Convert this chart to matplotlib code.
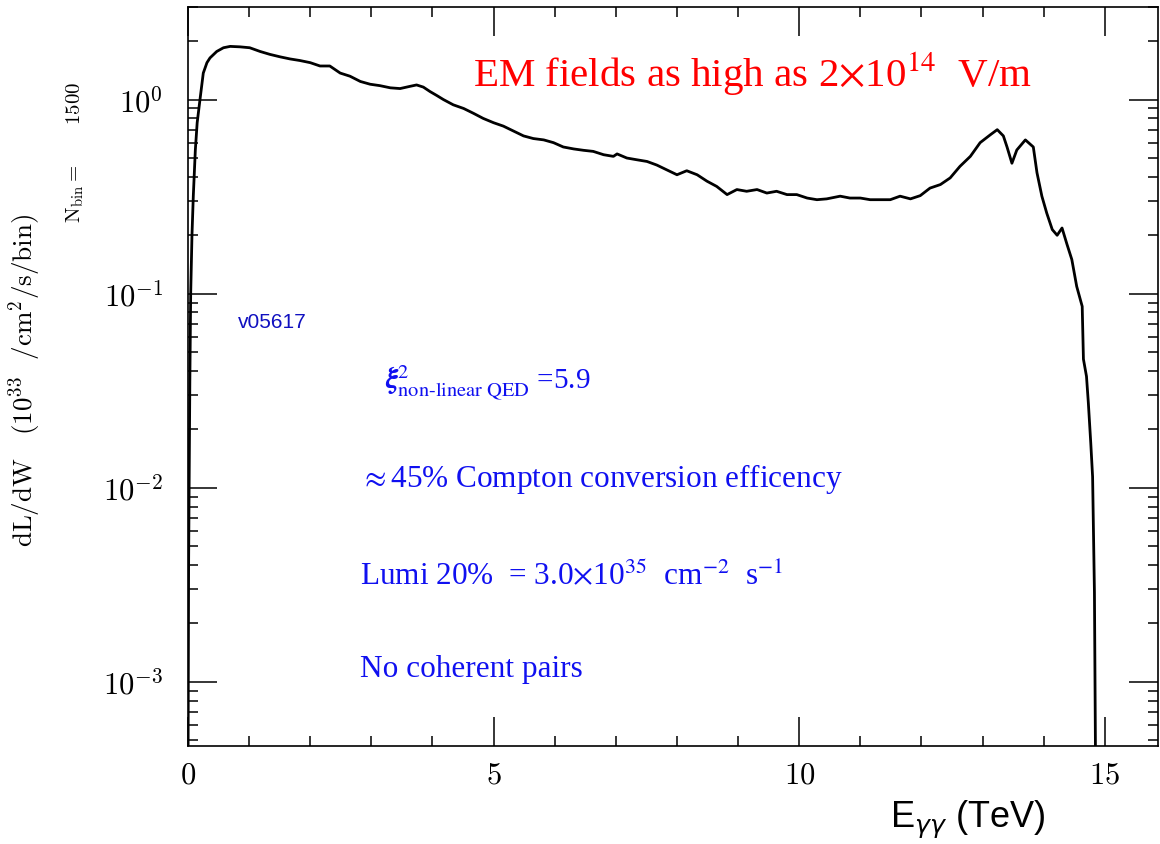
import matplotlib
matplotlib.use("Agg")
import matplotlib.pyplot as plt
from matplotlib.ticker import FixedLocator, NullFormatter

# photon-photon luminosity spectrum
energy_tev = [0.00, 0.01, 0.02, 0.03, 0.044, 0.065, 0.087, 0.12, 0.15, 0.196,
              0.25, 0.31, 0.36, 0.47, 0.58, 0.69, 0.85, 1.01, 1.18, 1.34,
              1.51, 1.67, 1.83, 2.00, 2.16, 2.32, 2.49, 2.65, 2.82, 2.98,
              3.14, 3.31, 3.47, 3.63, 3.74, 3.85, 3.96, 4.07, 4.18, 4.34,
              4.51, 4.67, 4.83, 5.00, 5.16, 5.32, 5.49, 5.65, 5.82, 5.98,
              6.14, 6.31, 6.47, 6.63, 6.80, 6.96, 7.02, 7.18, 7.34, 7.51,
              7.67, 7.83, 8.00, 8.16, 8.33, 8.49, 8.65, 8.82, 8.98, 9.14,
              9.31, 9.47, 9.63, 9.80, 9.96, 10.13, 10.29, 10.45, 10.67, 10.83,
              11.00, 11.16, 11.33, 11.49, 11.65, 11.82, 11.98, 12.14, 12.31, 12.47,
              12.63, 12.80, 12.96, 13.13, 13.24, 13.34, 13.40, 13.48, 13.56, 13.70,
              13.83, 13.89, 13.97, 14.05, 14.14, 14.22, 14.30, 14.38, 14.46, 14.54,
              14.63, 14.65, 14.70, 14.73, 14.77, 14.80, 14.83, 14.86]
dl_dw = [0.0003, 0.004, 0.012, 0.035, 0.10, 0.20, 0.32, 0.55, 0.76, 1.00,
         1.37, 1.55, 1.64, 1.77, 1.85, 1.88, 1.87, 1.85, 1.77, 1.71,
         1.66, 1.62, 1.59, 1.55, 1.49, 1.49, 1.37, 1.32, 1.24, 1.20,
         1.18, 1.15, 1.14, 1.17, 1.19, 1.16, 1.10, 1.05, 1.00, 0.94,
         0.90, 0.85, 0.80, 0.76, 0.73, 0.69, 0.65, 0.63, 0.62, 0.60,
         0.57, 0.557, 0.548, 0.541, 0.52, 0.51, 0.525, 0.50, 0.49, 0.48,
         0.46, 0.435, 0.41, 0.43, 0.41, 0.38, 0.357, 0.324, 0.344, 0.337,
         0.344, 0.33, 0.337, 0.324, 0.324, 0.311, 0.305, 0.308, 0.318, 0.311,
         0.311, 0.305, 0.305, 0.305, 0.318, 0.308, 0.32, 0.35, 0.365, 0.395,
         0.453, 0.51, 0.60, 0.66, 0.70, 0.65, 0.57, 0.47, 0.55, 0.62,
         0.57, 0.42, 0.318, 0.26, 0.214, 0.20, 0.218, 0.18, 0.15, 0.109,
         0.086, 0.046, 0.0375, 0.0275, 0.017, 0.0114, 0.0029, 0.0001]

x_major = [0, 5, 10, 15]
x_minor = [1, 2, 3, 4, 6, 7, 8, 9, 11, 12, 13, 14]
y_major = [1e-3, 1e-2, 1e-1, 1e0]
y_labels = [r'$10^{-3}$', r'$10^{-2}$', r'$10^{-1}$', r'$10^{0}$']

plt.rcParams['mathtext.fontset'] = 'cm'

W, H = 1160, 844
fig = plt.figure(figsize=(W / 100, H / 100), dpi=100)
ax = fig.add_axes([188 / W, 1 - 745.5 / H, (1158 - 188) / W, (745.5 - 7) / H])

ax.plot(energy_tev, dl_dw, color='black', lw=2.0)

ax.set_yscale('log')
ax.set_xlim(0, 15.87)
ax.set_ylim(4.7e-4, 3.0)

# ticks: inward on all four sides, long majors like the original
ax.xaxis.set_major_locator(FixedLocator(x_major))
ax.xaxis.set_minor_locator(FixedLocator(x_minor))
ax.set_xticklabels([r'$%d$' % v for v in x_major])
ax.set_yticks(y_major, labels=y_labels)
ax.yaxis.set_minor_formatter(NullFormatter())
ax.tick_params(which='both', direction='in', top=True, right=True, width=1.1)
ax.tick_params(which='major', length=21)
ax.tick_params(which='minor', length=7.5)
ax.tick_params(axis='y', which='major', labelsize=22, pad=18)
ax.tick_params(axis='x', which='major', labelsize=22, pad=11)
for sp in ax.spines.values():
    sp.set_linewidth(1.2)


def fx(px):
    return px / W


def fy(py):
    return 1 - py / H


# axis titles
fig.text(fx(25), fy(380), r'$\mathrm{dL/dW}\ \ \ (10^{33}\ \ /\mathrm{cm}^{2}/\mathrm{s/bin})$',
         rotation=90, ha='center', va='center', fontsize=19.5)
fig.text(fx(75), fy(152), r'$\mathrm{N_{bin}=}\ \ \ \ \ \ 1500$',
         rotation=90, ha='center', va='center', fontsize=15)
fig.text(fx(968), fy(820), r'E$_{\gamma\gamma}$ (TeV)', ha='center', va='center',
         fontsize=26, family='Liberation Sans', math_fontfamily='dejavusans')

# annotations
serif = 'Liberation Serif'
fig.text(fx(473), fy(86), r'EM fields as high as 2$\times$10$^{14}$  V/m', color='red',
         fontsize=29.5, family=serif, math_fontfamily='stix', va='baseline')
fig.text(fx(238), fy(323), 'v05617', color='#1010c0', fontsize=15,
         family='Liberation Sans', va='center')
blue = '#1010f0'
fig.text(fx(385), fy(390), r'$\boldsymbol{\xi}^{2}_{\mathrm{non}\text{-}\mathrm{linear\ QED}}$ =5.9',
         color=blue, fontsize=21, family=serif, math_fontfamily='stix', va='baseline')
fig.text(fx(360), fy(487), r'$\approx$45% Compton conversion efficency',
         color=blue, fontsize=22.5, family=serif, math_fontfamily='stix', va='baseline')
fig.text(fx(360), fy(585), r'Lumi 20%  = 3.0$\times$10$^{35}$  cm$^{-2}$  s$^{-1}$',
         color=blue, fontsize=22.5, family=serif, math_fontfamily='stix', va='baseline')
fig.text(fx(360), fy(677), 'No coherent pairs',
         color=blue, fontsize=22.5, family=serif, va='baseline')

fig.savefig('out.png', dpi=100)
